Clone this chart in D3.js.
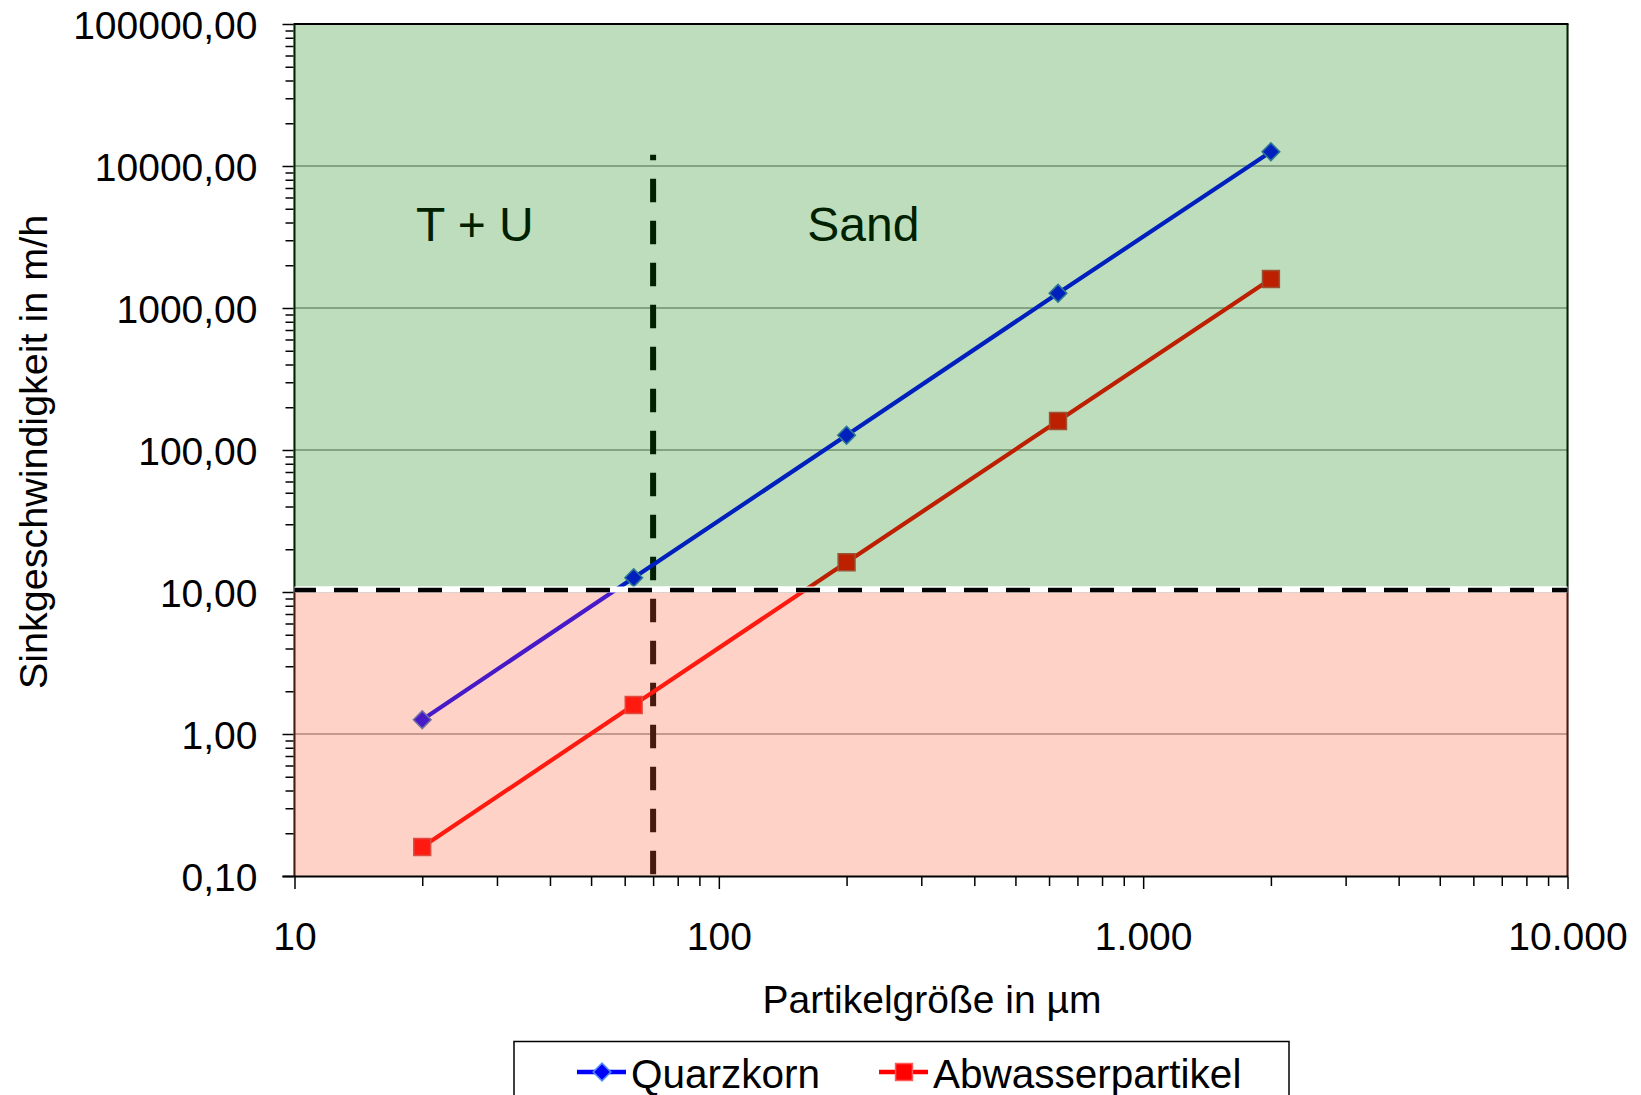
<!DOCTYPE html>
<html>
<head>
<meta charset="utf-8">
<script src="https://cdn.jsdelivr.net/npm/d3@7"></script>
<style>
  body { margin: 0; background: #fff; }
  svg { display: block; }
  text { font-family: "Liberation Sans", Arial, sans-serif; fill: #000; }
</style>
</head>
<body>
<svg id="chart" width="1641" height="1095"></svg>
<script>
// Particle sizes (µm) and settling velocities (m/h)
const particleSizes = [20, 63, 200, 630, 2000];
const quarzkorn = [1.26, 12.6, 127, 1270, 12600];
const abwasserpartikel = [0.16, 1.6, 16.2, 160, 1600];
const seriesNames = ["Quarzkorn", "Abwasserpartikel"];

// Axis ticks
const xTickValues = [10, 100, 1000, 10000];
const xTickLabels = ["10", "100", "1.000", "10.000"];
const yTickValues = [0.1, 1, 10, 100, 1000, 10000, 100000];
const yTickLabels = ["0,10", "1,00", "10,00", "100,00", "1000,00", "10000,00", "100000,00"];

// Class boundaries: grain size T + U / Sand and the velocity limit
const sandLimit = 70;
const sandLineTop = 12000;
const velocityLimit = 10;
const regionNames = ["T + U", "Sand"];
const regionAnchorsX = [26.6, 219];
const regionAnchorY = 2950;

const svg = d3.select("#chart");
const L = 294.5, R = 1567.5, T = 24, B = 876;

const x = d3.scaleLog().domain([10, 10000]).range([L, R]);
const y = d3.scaleLog().domain([0.1, 100000]).range([B, T]);

const fontTick = 39;

// minor tick values (2..9 in every decade)
const minorTicks = (lo, hi) => {
  const out = [];
  for (let e = Math.log10(lo); e < Math.log10(hi); e++) {
    for (let k = 2; k <= 9; k++) out.push(k * Math.pow(10, e));
  }
  return out;
};

// --- layer under the tinted zones ---
const under = svg.append("g");

// horizontal gridlines
under.selectAll("line.grid").data(yTickValues.slice(1, -1)).join("line")
  .attr("x1", L).attr("x2", R)
  .attr("y1", d => y(d)).attr("y2", d => y(d))
  .attr("stroke", "#979797").attr("stroke-width", 1.5);

// left axis line and right border
under.append("line").attr("x1", L).attr("x2", L).attr("y1", T).attr("y2", B)
  .attr("stroke", "#000").attr("stroke-width", 2);
under.append("line").attr("x1", R).attr("x2", R).attr("y1", T).attr("y2", B)
  .attr("stroke", "#000").attr("stroke-width", 2);

// vertical dashed boundary at the sand limit
under.append("line")
  .attr("x1", x(sandLimit)).attr("x2", x(sandLimit))
  .attr("y1", y(sandLineTop)).attr("y2", B - 1)
  .attr("stroke", "#000").attr("stroke-width", 6)
  .attr("stroke-dasharray", "23.5,18.5").attr("stroke-dashoffset", 18);

// data series
const series = [
  { name: seriesNames[0], values: quarzkorn, color: "#0000ff", edge: "rgb(60,120,200)", shape: "diamond" },
  { name: seriesNames[1], values: abwasserpartikel, color: "#ff0000", edge: "rgb(210,70,70)", shape: "square" }
];

const line = d3.line().x(d => x(d[0])).y(d => y(d[1]));

const drawMarker = (g, shape, color, edge) => {
  if (shape === "diamond") {
    g.append("path").attr("d", d3.symbol(d3.symbolSquare, 156)())
      .attr("transform", "rotate(45)")
      .attr("fill", color).attr("stroke", edge).attr("stroke-width", 1.5);
  } else {
    g.append("path").attr("d", d3.symbol(d3.symbolSquare, 285)())
      .attr("fill", color).attr("stroke", edge).attr("stroke-width", 1.5);
  }
};

series.forEach(s => {
  const pts = particleSizes.map((d, i) => [d, s.values[i]]);
  under.append("path").attr("d", line(pts))
    .attr("fill", "none").attr("stroke", s.color).attr("stroke-width", 4.2);
  pts.forEach(p => {
    const g = under.append("g").attr("transform", `translate(${x(p[0])},${y(p[1])})`);
    drawMarker(g, s.shape, s.color, s.edge);
  });
});

// zone names
regionNames.forEach((n, i) => {
  under.append("text")
    .attr("x", x(regionAnchorsX[i])).attr("y", y(regionAnchorY))
    .attr("text-anchor", "middle").attr("font-size", 48)
    .text(n);
});

// --- tinted zones, separated by a narrow white band at the limit ---
const yLim = y(velocityLimit) - 2.5;
svg.append("rect")
  .attr("x", L - 1).attr("y", T + 1).attr("width", R - L + 2).attr("height", yLim - 3 - (T + 1))
  .attr("fill", "rgb(0,123,0)").attr("fill-opacity", 0.26);
svg.append("rect")
  .attr("x", L - 1).attr("y", yLim + 3).attr("width", R - L + 2).attr("height", B - (yLim + 3))
  .attr("fill", "rgb(255,93,57)").attr("fill-opacity", 0.28);

// horizontal dashed limit line
svg.append("line").attr("x1", L).attr("x2", R).attr("y1", yLim).attr("y2", yLim)
  .attr("stroke", "#fff").attr("stroke-width", 6);
svg.append("line").attr("x1", L).attr("x2", R).attr("y1", yLim + 0.5).attr("y2", yLim + 0.5)
  .attr("stroke", "#000").attr("stroke-width", 4.7)
  .attr("stroke-dasharray", "24,18").attr("stroke-dashoffset", 2.5);

// top border and bottom axis line
svg.append("line").attr("x1", L - 1).attr("x2", R + 1).attr("y1", T).attr("y2", T)
  .attr("stroke", "#000").attr("stroke-width", 2);
svg.append("line").attr("x1", L - 12).attr("x2", R + 1).attr("y1", B + 0.5).attr("y2", B + 0.5)
  .attr("stroke", "#000").attr("stroke-width", 2);

// --- axes ---
const yAxisMajor = d3.axisLeft(y).tickValues(yTickValues).tickSize(11)
  .tickFormat((d, i) => yTickLabels[i]);
const yAxisMinor = d3.axisLeft(y).tickValues(minorTicks(0.1, 100000)).tickSize(8).tickFormat("");
const xAxisMajor = d3.axisBottom(x).tickValues(xTickValues).tickSize(12)
  .tickFormat((d, i) => xTickLabels[i]);
const xAxisMinor = d3.axisBottom(x).tickValues(minorTicks(10, 10000)).tickSize(9).tickFormat("");

const styleAxis = g => {
  g.select(".domain").remove();
  g.selectAll(".tick line").attr("stroke", "#000").attr("stroke-width", 1.5);
  g.selectAll(".tick text").attr("font-size", fontTick).attr("fill", "#000")
    .attr("font-family", "Liberation Sans, Arial, sans-serif");
};

svg.append("g").attr("transform", `translate(${L - 1},0)`).call(yAxisMinor).call(styleAxis);
svg.append("g").attr("transform", `translate(${L - 1},0)`).call(yAxisMajor).call(styleAxis)
  .selectAll(".tick text").attr("x", -36).attr("dy", "0.36em");
svg.append("g").attr("transform", `translate(0,${B + 1})`).call(xAxisMinor).call(styleAxis);
svg.append("g").attr("transform", `translate(0,${B + 1})`).call(xAxisMajor).call(styleAxis)
  .selectAll(".tick text").attr("y", 0).attr("dy", 0)
  .attr("transform", "translate(0,73)");

// axis titles
svg.append("text").attr("x", (L + R) / 2 + 1).attr("y", 1013)
  .attr("text-anchor", "middle").attr("font-size", 39)
  .text("Partikelgröße in µm");
svg.append("text").attr("transform", "translate(47,452) rotate(-90)")
  .attr("text-anchor", "middle").attr("font-size", 39.5)
  .text("Sinkgeschwindigkeit in m/h");

// --- legend ---
const lg = svg.append("g");
lg.append("rect").attr("x", 514).attr("y", 1041.5).attr("width", 775).attr("height", 90)
  .attr("fill", "#fff").attr("stroke", "#000").attr("stroke-width", 1.5);
const legendX = [577, 879];
series.forEach((s, i) => {
  const x0 = legendX[i], yc = 1072;
  lg.append("line").attr("x1", x0).attr("x2", x0 + 49).attr("y1", yc).attr("y2", yc)
    .attr("stroke", s.color).attr("stroke-width", 4.5);
  const g = lg.append("g").attr("transform", `translate(${x0 + 25},${yc})`);
  drawMarker(g, s.shape, s.color, s.shape === "diamond" ? "rgb(80,140,255)" : "rgb(255,90,90)");
  lg.append("text").attr("x", x0 + 54).attr("y", 1088).attr("font-size", 40.5).text(s.name);
});
</script>
</body>
</html>
